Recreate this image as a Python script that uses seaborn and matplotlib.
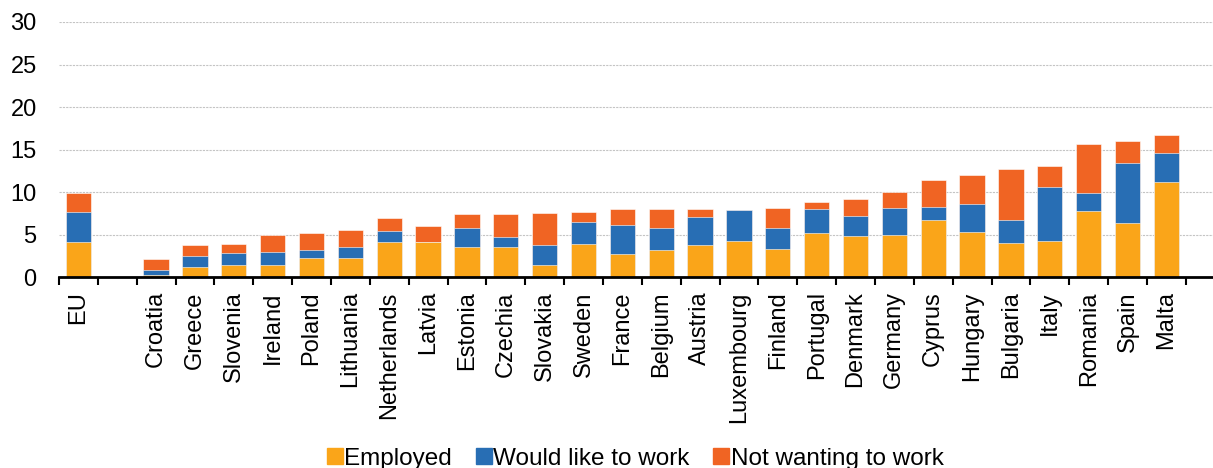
import numpy as np
import pandas as pd
import matplotlib
matplotlib.use("Agg")
import matplotlib.pyplot as plt
import seaborn as sns
from matplotlib.lines import Line2D

countries = ["EU", " ", "Croatia", "Greece", "Slovenia", "Ireland", "Poland", "Lithuania",
             "Netherlands", "Latvia", "Estonia", "Czechia", "Slovakia", "Sweden", "France",
             "Belgium", "Austria", "Luxembourg", "Finland", "Portugal", "Denmark", "Germany",
             "Cyprus", "Hungary", "Bulgaria", "Italy", "Romania", "Spain", "Malta"]
employed = [4.1, np.nan, 0.3, 1.2, 1.5, 1.45, 2.3, 2.3, 4.1, 4.1, 3.55, 3.55, 1.4, 3.95, 2.75,
            3.25, 3.75, 4.3, 3.35, 5.15, 4.85, 5.0, 6.75, 5.35, 4.05, 4.25, 7.75, 6.35, 11.15]
would_like = [3.55, np.nan, 0.55, 1.35, 1.4, 1.55, 0.95, 1.3, 1.35, 0.0, 2.3, 1.2, 2.45, 2.5, 3.4,
              2.6, 3.35, 3.65, 2.5, 2.9, 2.3, 3.2, 1.55, 3.3, 2.7, 6.4, 2.15, 7.1, 3.4]
not_wanting = [2.25, np.nan, 1.3, 1.2, 1.0, 1.95, 1.95, 2.0, 1.5, 1.95, 1.6, 2.7, 3.7, 1.25, 1.9,
               2.2, 0.9, 0.0, 2.3, 0.85, 2.1, 1.85, 3.15, 3.4, 6.0, 2.4, 5.75, 2.6, 2.2]
series_names = ["Employed", "Would like to work", "Not wanting to work"]
colors = ["#FAA519", "#286EB4", "#F06423"]
yticks = [0, 5, 10, 15, 20, 25, 30]

df = pd.DataFrame({"country": countries, "Employed": employed,
                   "Would": would_like, "Not": not_wanting})
df["c1"] = df["Employed"]
df["c2"] = df["Employed"] + df["Would"]
df["c3"] = df["c2"] + df["Not"]

sns.set_theme(style="white")
plt.rcParams["font.family"] = ["Liberation Sans", "DejaVu Sans"]
plt.rcParams["text.color"] = "black"
plt.rcParams["xtick.color"] = "black"
plt.rcParams["ytick.color"] = "black"
plt.rcParams["xtick.labelcolor"] = "black"
plt.rcParams["ytick.labelcolor"] = "black"

fig = plt.figure(figsize=(12.13, 4.68), dpi=100)
ax = fig.add_axes([0.0486, 0.4075, 0.9514, 0.5455])

for col, c in zip(["c3", "c2", "c1"], [colors[2], colors[1], colors[0]]):
    sns.barplot(data=df, x="country", y=col, color=c, saturation=1, width=0.65,
                order=countries, ax=ax, edgecolor="white", linewidth=0.4, errorbar=None)

n = len(countries)
ax.set_xlim(-0.5, n - 0.5 + 0.7)
ax.set_ylim(0, 30)
ax.set_yticks(yticks)
ax.set_yticklabels([str(t) for t in yticks], fontsize=17, color="black")
ax.set_xlabel("")
ax.set_ylabel("")
ax.set_xticks(range(n))
ax.set_xticklabels(countries, rotation=90, fontsize=17, color="black")
ax.set_xticks(np.arange(-0.5, n, 1.0), minor=True)
ax.tick_params(axis="x", which="major", length=0, pad=10)
ax.tick_params(axis="x", which="minor", length=6, width=1.5, color="black", direction="out", bottom=True)
ax.tick_params(axis="y", length=0, pad=16)
ax.yaxis.grid(True, linestyle=(0, (2, 1)), color="#C4C4C4", linewidth=0.8)
ax.set_axisbelow(True)
for s in ["top", "right", "left"]:
    ax.spines[s].set_visible(False)
ax.spines["bottom"].set_color("black")
ax.spines["bottom"].set_linewidth(2)

handles = [Line2D([0], [0], marker="s", linestyle="none", markersize=11,
                  markerfacecolor=c, markeredgecolor=c) for c in colors]
leg = fig.legend(handles, series_names, loc="lower center", bbox_to_anchor=(0.523, -0.05),
                 ncol=3, frameon=False, fontsize=17.5, handletextpad=0.0, columnspacing=0.9,
                 handlelength=0.8)
for t in leg.get_texts():
    t.set_color("black")

fig.savefig("out.png", dpi=100)
